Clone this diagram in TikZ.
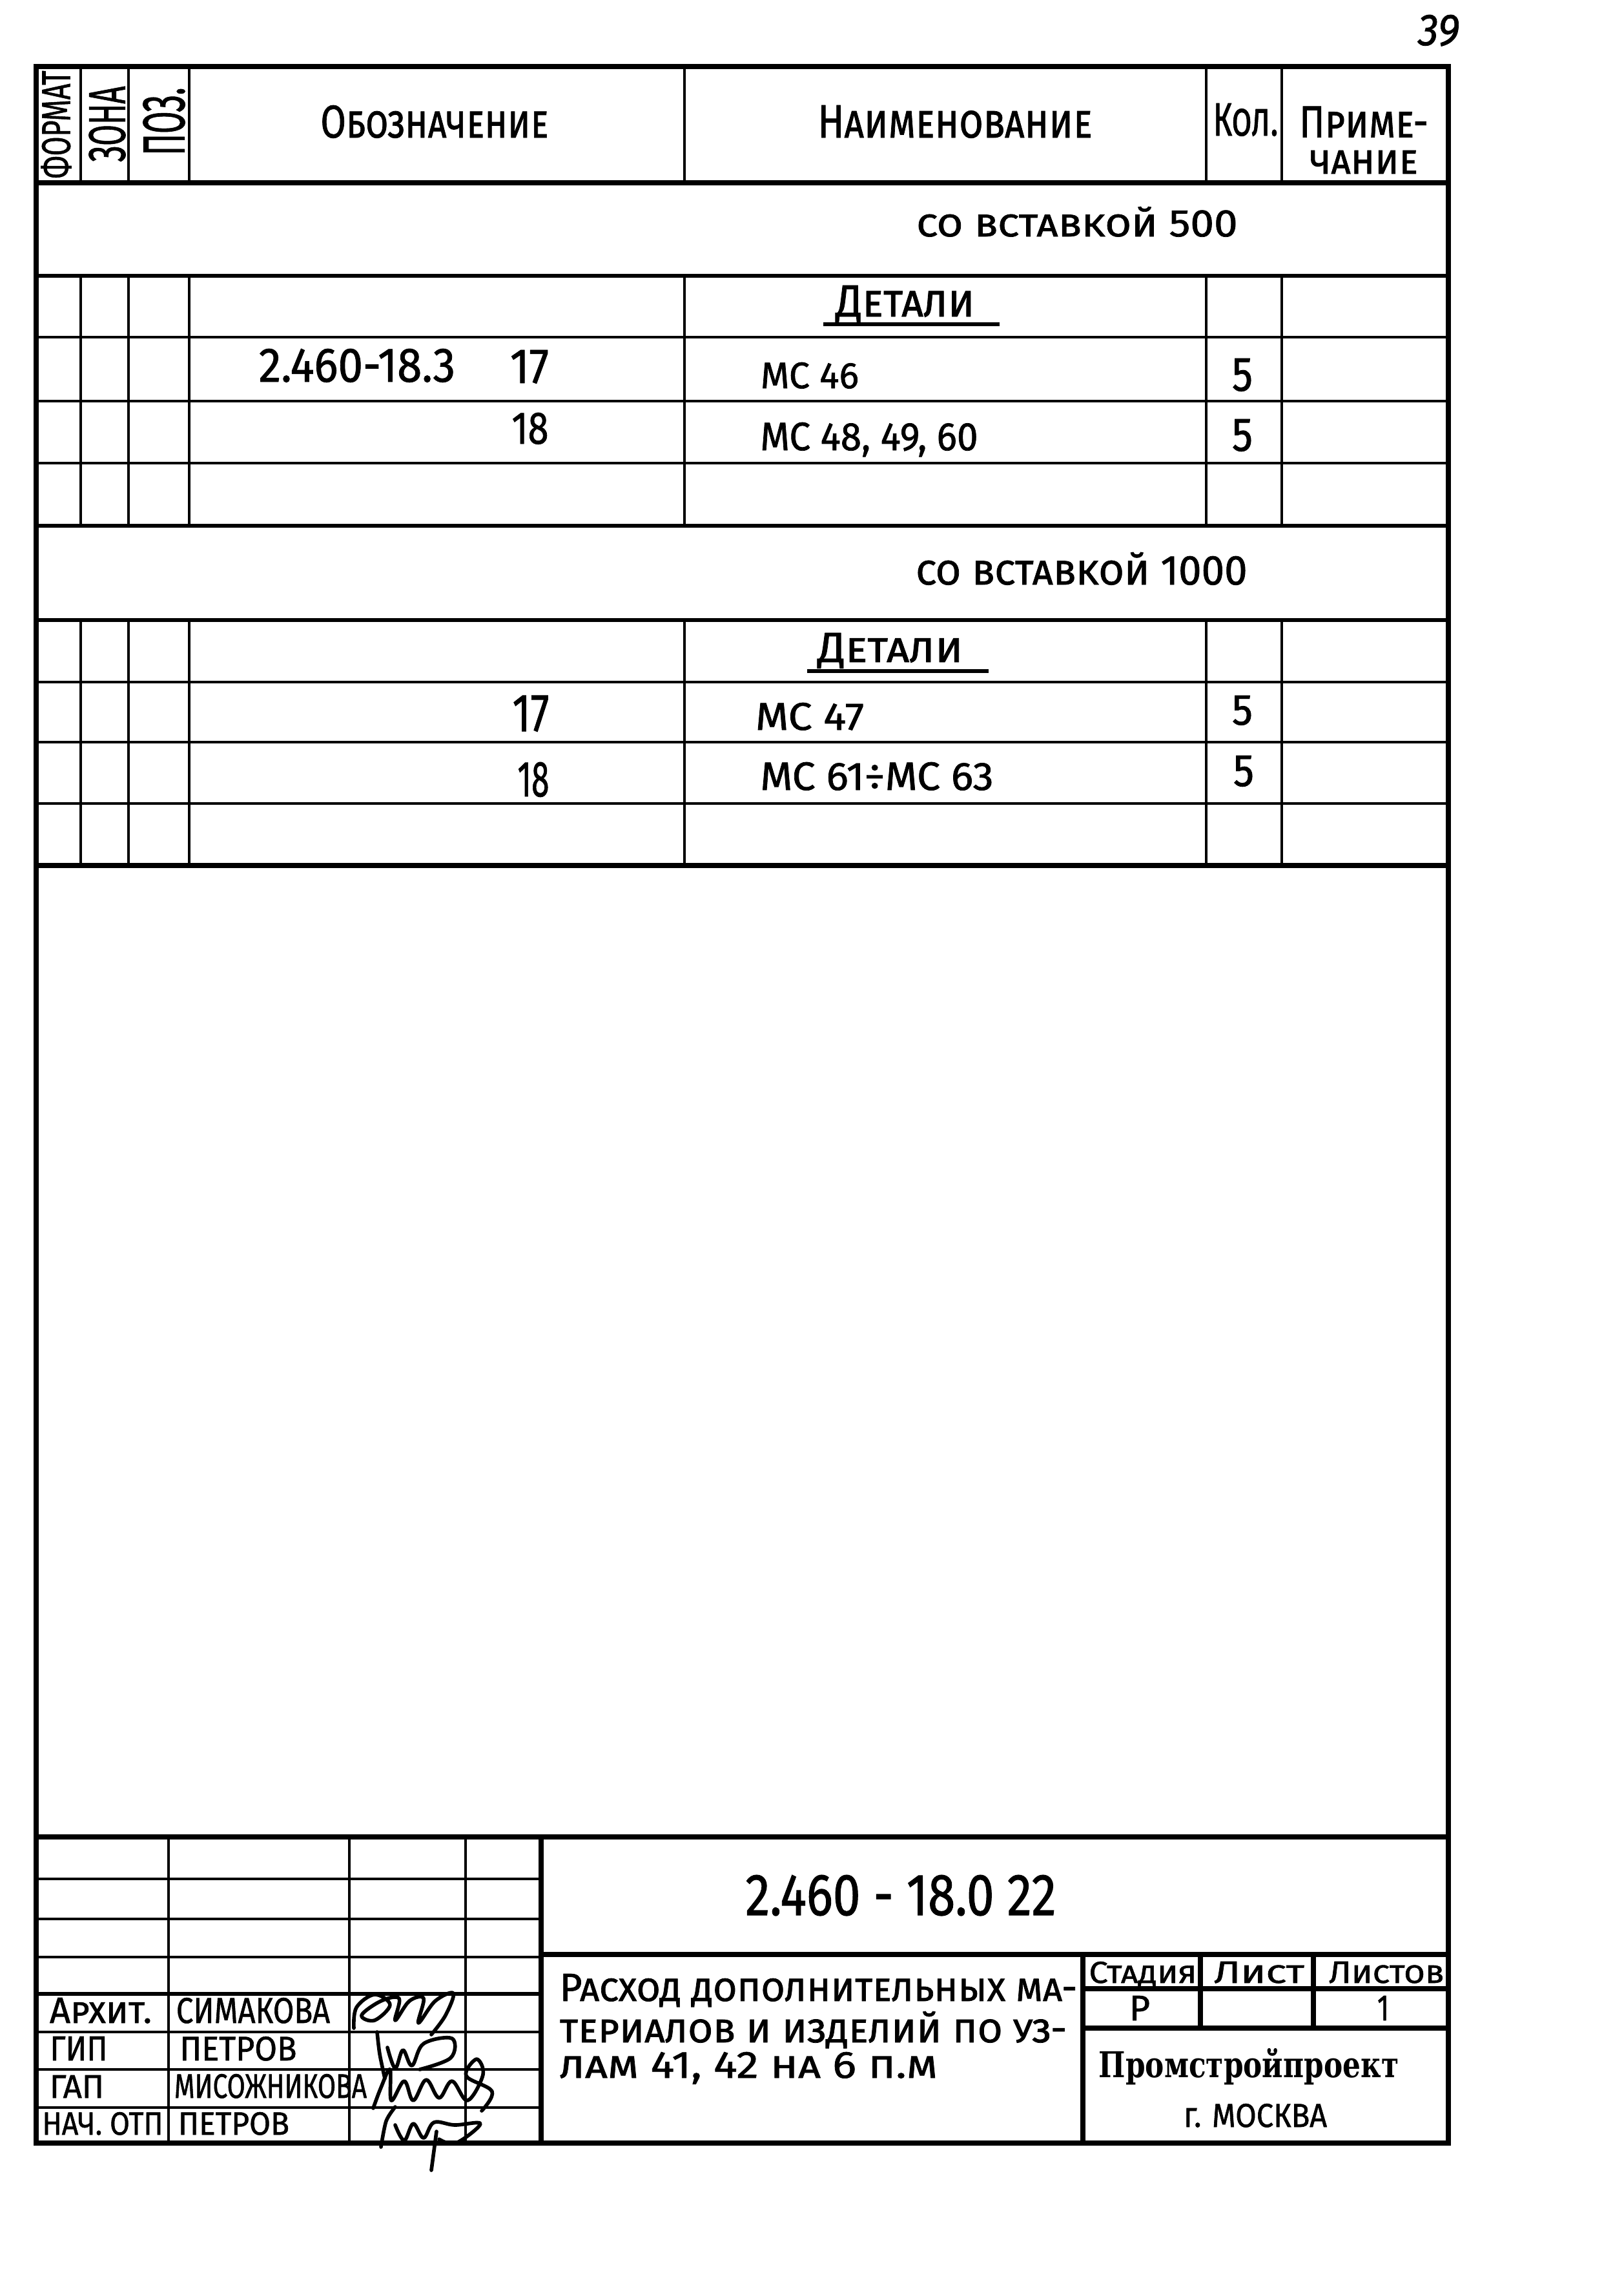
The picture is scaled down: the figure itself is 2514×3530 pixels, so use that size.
\documentclass[tikz,border=0pt]{standalone}
\usepackage{fontspec}
\usepackage{graphicx}
\setmainfont{Fira Sans}[FakeBold=1.2]
\newfontfamily\stampfont{DejaVu Serif}

% squeeze a text into a box of given width and height (in cm)
\newcommand{\fitto}[3]{\resizebox{#1cm}{#2cm}{#3}}

\begin{document}
\begin{tikzpicture}[x=0.01cm,y=-0.01cm,
    bold rule/.style={line width=2.2pt},
    mid rule/.style={line width=1.6pt},
    fine rule/.style={line width=1.2pt},
    lbl/.style={inner sep=0pt, anchor=base, font=\scshape},
    sign/.style={line width=1.6pt, line cap=round, line join=round}]
    \useasboundingbox (0,0) rectangle (2514,3530);

    % Define columns of the list
    \def\xL{56}
    \def\xF{125}
    \def\xZ{199}
    \def\xP{293}
    \def\xD{1060}
    \def\xN{1868}
    \def\xK{1985}
    \def\xR{2243}

    % Outer frame and header
    \draw[bold rule] (\xL,103) rectangle (\xR,3318);
    \draw[bold rule] (\xL,283) -- (\xR,283);
    \foreach \x in {\xF,\xZ,\xP,\xD,\xN,\xK}
      \draw[fine rule] (\x,103) -- (\x,283);

    % Section "500"
    \draw[mid rule] (\xL,427) -- (\xR,427);
    \foreach \y in {522,621,717}
      \draw[fine rule] (\xL,\y) -- (\xR,\y);
    \draw[mid rule] (\xL,814) -- (\xR,814);
    \foreach \x in {\xF,\xZ,\xP,\xD,\xN,\xK}
      \draw[fine rule] (\x,427) -- (\x,814);

    % Section "1000"
    \draw[mid rule] (\xL,960) -- (\xR,960);
    \foreach \y in {1056,1149,1244}
      \draw[fine rule] (\xL,\y) -- (\xR,\y);
    \draw[bold rule] (\xL,1340) -- (\xR,1340);
    \foreach \x in {\xF,\xZ,\xP,\xD,\xN,\xK}
      \draw[fine rule] (\x,960) -- (\x,1340);

    % Title block
    \draw[bold rule] (\xL,2844) -- (\xR,2844);
    \foreach \x in {261,541,721}
      \draw[fine rule] (\x,2844) -- (\x,3318);
    \draw[bold rule] (838,2844) -- (838,3318);
    \foreach \y in {2909,2971,3030,3146,3204,3263}
      \draw[fine rule] (\xL,\y) -- (838,\y);
    \draw[mid rule] (\xL,3087) -- (838,3087);
    \draw[bold rule] (838,3026) -- (\xR,3026);
    \draw[bold rule] (1677,3026) -- (1677,3318);
    \draw[bold rule] (1677,3079) -- (\xR,3079);
    \draw[bold rule] (1677,3140) -- (\xR,3140);
    \foreach \x in {1859,2034}
      \draw[bold rule] (\x,3026) -- (\x,3140);

    % Sheet number
    \node[lbl, font=\itshape] (sheetNo) at (2228,70) {\fitto{0.64}{0.47}{39}};

    % Header texts
    \node[inner sep=0pt, rotate=90] (hdFormat) at (87,193) {\fitto{1.67}{0.45}{ФОРМАТ}};
    \node[inner sep=0pt, rotate=90] (hdZone) at (166,192) {\fitto{1.17}{0.56}{ЗОНА}};
    \node[inner sep=0pt, rotate=90] (hdPos) at (254,188) {\fitto{1.05}{0.64}{ПОЗ.}};
    \node[lbl] (hdDesig) at (673,213) {\fitto{3.53}{0.50}{Обозначение}};
    \node[lbl] (hdName) at (1479,213) {\fitto{4.25}{0.50}{Наименование}};
    \node[lbl] (hdQty) at (1929,210) {\fitto{1.01}{0.50}{Кол.}};
    \node[lbl, anchor=north, align=center] (hdNote) at (2112,164)
      {\fitto{2.00}{0.48}{Приме-}\\[0.14cm]\fitto{1.68}{0.36}{чание}};

    % Section "500"
    \node[lbl] (band500) at (1668,366) {\fitto{4.97}{0.46}{со вставкой 500}};
    \node[lbl] (partsA) at (1402,490) {\fitto{2.15}{0.48}{Детали}};
    \draw[mid rule] (1275,502) -- (1548,502);
    \node[lbl] (docA) at (553,591) {\fitto{3.04}{0.51}{2.460-18.3}};
    \node[lbl] (posA1) at (820,593) {\fitto{0.60}{0.51}{17}};
    \node[lbl] (nameA1) at (1254,601) {\fitto{1.52}{0.40}{МС 46}};
    \node[lbl] (qtyA1) at (1924,605) {\fitto{0.32}{0.50}{5}};
    \node[lbl] (posA2) at (821,687) {\fitto{0.57}{0.48}{18}};
    \node[lbl] (nameA2) at (1346,697) {\fitto{3.37}{0.43}{МС 48, 49, 60}};
    \node[lbl] (qtyA2) at (1924,698) {\fitto{0.32}{0.49}{5}};

    % Section "1000"
    \node[lbl] (band1000) at (1675,905) {\fitto{5.13}{0.50}{со вставкой 1000}};
    \node[lbl] (partsB) at (1379,1025) {\fitto{2.25}{0.45}{Детали}};
    \draw[mid rule] (1250,1039) -- (1531,1039);
    \node[lbl] (posB1) at (822,1132) {\fitto{0.57}{0.55}{17}};
    \node[lbl] (nameB1) at (1254,1130) {\fitto{1.68}{0.42}{МС 47}};
    \node[lbl] (qtyB1) at (1924,1122) {\fitto{0.32}{0.45}{5}};
    \node[lbl] (posB2) at (826,1233) {\fitto{0.49}{0.53}{18}};
    \node[lbl] (nameB2) at (1358,1223) {\fitto{3.61}{0.43}{МС 61÷МС 63}};
    \node[lbl] (qtyB2) at (1926,1217) {\fitto{0.32}{0.47}{5}};

    % Title block texts
    \node[lbl] (docNo) at (1395,2965) {\fitto{4.81}{0.62}{2.460 - 18.0 22}};
    \node[lbl, anchor=base west] (titleA) at (866,3098) {\fitto{8.01}{0.42}{Расход дополнительных ма-}};
    \node[lbl, anchor=base west] (titleB) at (866,3162) {\fitto{7.85}{0.48}{териалов и изделий по уз-}};
    \node[lbl, anchor=base west] (titleC) at (866,3217) {\fitto{5.85}{0.40}{лам 41, 42 на 6 п.м}};
    \node[lbl] (stage) at (1770,3070) {\fitto{1.67}{0.33}{Стадия}};
    \node[lbl] (sheet) at (1950,3070) {\fitto{1.40}{0.33}{Лист}};
    \node[lbl] (sheets) at (2147,3070) {\fitto{1.78}{0.33}{Листов}};
    \node[lbl] (stageVal) at (1765,3128) {\fitto{0.32}{0.38}{Р}};
    \node[lbl] (sheetsVal) at (2142,3128) {\fitto{0.18}{0.38}{1}};
    \node[lbl, font=\stampfont\bfseries] (firm) at (1934,3216) {\fitto{4.64}{0.45}{Промстройпроект}};
    \node[lbl] (city) at (1944,3293) {\fitto{2.22}{0.36}{г. МОСКВА}};

    % Staff
    \node[lbl] (roleA) at (156,3132) {\fitto{1.58}{0.39}{Архит.}};
    \node[lbl] (nameA) at (392,3132) {\fitto{2.38}{0.39}{СИМАКОВА}};
    \node[lbl] (roleB) at (122,3190) {\fitto{0.89}{0.37}{ГИП}};
    \node[lbl] (nameB) at (369,3190) {\fitto{1.81}{0.37}{ПЕТРОВ}};
    \node[lbl] (roleC) at (119,3248) {\fitto{0.84}{0.35}{ГАП}};
    \node[lbl] (nameC) at (419,3248) {\fitto{2.98}{0.37}{МИСОЖНИКОВА}};
    \node[lbl] (roleD) at (159,3305) {\fitto{1.87}{0.35}{НАЧ. ОТП}};
    \node[lbl] (nameD) at (362,3305) {\fitto{1.72}{0.35}{ПЕТРОВ}};

    % Signatures
    \draw[sign] plot[smooth, tension=0.6] coordinates {(548,3140) (552,3108) (580,3088) (604,3104) (580,3128) (560,3120) (590,3098) (618,3094) (612,3128) (634,3098) (656,3094) (648,3132) (674,3098) (702,3086) (690,3120) (668,3150)};
    \draw[sign] plot[smooth, tension=0.5] coordinates {(584,3146) (588,3180) (596,3218)};
    \draw[sign] plot[smooth, tension=0.6] coordinates {(600,3170) (612,3202) (624,3174) (638,3198) (656,3164) (700,3156) (698,3186) (650,3204)};
    \draw[sign] plot[smooth, tension=0.6] coordinates {(578,3264) (590,3232) (604,3204) (606,3252) (626,3222) (640,3252) (660,3220) (680,3248) (700,3222) (724,3252) (748,3212) (738,3188) (722,3214) (762,3238) (746,3268)};
    \draw[sign] plot[smooth, tension=0.5] coordinates {(590,3324) (598,3284) (612,3262)};
    \draw[sign] plot[smooth, tension=0.6] coordinates {(612,3290) (626,3314) (640,3288) (656,3310) (672,3286) (704,3290) (744,3288) (706,3318) (680,3312)};
    \draw[sign] (676,3300) -- (668,3360);
\end{tikzpicture}
\end{document}
